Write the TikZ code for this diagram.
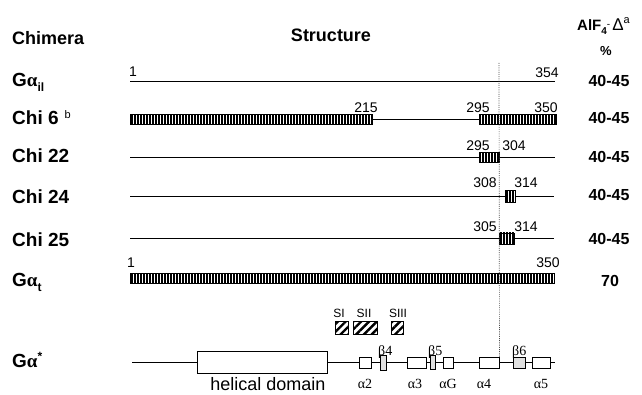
\documentclass[tikz,border=0pt]{standalone}
\usepackage{fontspec}
\setmainfont{Liberation Sans}
\newfontfamily\grk{Liberation Serif}
\usetikzlibrary{patterns.meta}
\newcommand\mysub[1]{\raisebox{-5pt}{\fontsize{12}{12}\selectfont #1}}
\newcommand\mysup[1]{\raisebox{7pt}{\fontsize{12}{12}\selectfont #1}}
\begin{document}
\begin{tikzpicture}[x=1pt,y=-1pt,
  lbl/.style={anchor=base west, inner sep=0pt, font=\fontsize{19}{20}\selectfont\bfseries},
  head/.style={anchor=base, inner sep=0pt, font=\fontsize{18}{20}\selectfont\bfseries},
  val/.style={anchor=base, inner sep=0pt, font=\fontsize{16}{18}\selectfont\bfseries},
  num/.style={anchor=base, inner sep=0pt, font=\fontsize{14}{16}\selectfont},
  slbl/.style={anchor=base, inner sep=0pt, font=\fontsize{12}{14}\selectfont},
  glbl/.style={anchor=base, inner sep=0pt, font=\fontsize{14}{16}\selectfont\grk},
  seg/.style={line width=0.9pt},
  stripebox/.style={draw, line width=0.8pt, inner sep=0pt, pattern={Lines[angle=90,distance=3pt,line width=1.3pt]}},
  hatchbox/.style={draw, line width=0.9pt, inner sep=0pt, minimum height=13pt, pattern={Lines[angle=45,distance=5.5pt,line width=2.4pt]}},
  domainbox/.style={draw, line width=0.9pt, fill=white, inner sep=0pt, minimum height=11pt},
  betabox/.style={draw, line width=0.9pt, fill=black!12, inner sep=0pt, minimum height=14pt},
  dotline/.style={line width=0.7pt, black!70, dash pattern=on 1pt off 1.2pt}]

\useasboundingbox (0,0) rectangle (642,395);

% headers
\node[lbl, font=\fontsize{18}{20}\selectfont\bfseries] (hchim) at (12,45) {Chimera};
\node[head] (hstruct) at (331,42) {Structure};
\node[anchor=base west, inner sep=0pt, font=\fontsize{15}{16}\selectfont\bfseries] (hdelta) at (577,31)
  {AlF\raisebox{-4pt}{\fontsize{10}{10}\selectfont 4}\raisebox{3pt}{\fontsize{10}{10}\selectfont\mdseries -}\hspace{2pt}{\mdseries\fontsize{17}{17}\selectfont Δ}\raisebox{7pt}{\fontsize{11}{11}\selectfont\mdseries a}};
\node[anchor=base, inner sep=0pt, font=\fontsize{13}{14}\selectfont\bfseries] (hpct) at (606,56) {\%};

% row labels
\node[lbl] (lgi) at (12,87) {G{\grk α}\mysub{il}};
\node[lbl] (lc6) at (12,124.5) {Chi 6\hspace{6pt}\raisebox{6pt}{\fontsize{11}{11}\selectfont\mdseries b}};
\node[lbl] (lc22) at (12,163) {Chi 22};
\node[lbl] (lc24) at (12,204) {Chi 24};
\node[lbl] (lc25) at (12,247) {Chi 25};
\node[lbl] (lgt) at (12,287) {G{\grk α}\mysub{t}};
\node[lbl] (lgs) at (12,367) {G{\grk α}\mysup{*}};

% values
\node[val] (v1) at (609,87) {40-45};
\node[val] (v2) at (609,124) {40-45};
\node[val] (v3) at (609,163) {40-45};
\node[val] (v4) at (609,201) {40-45};
\node[val] (v5) at (609,244) {40-45};
\node[val] (v6) at (610,286) {70};

% G alpha il
\coordinate (gis) at (130,81.5);
\coordinate (gie) at (555,81.5);
\draw[seg] (gis) -- (gie);
\node[num] (ngi1) at (133,77) {1};
\node[num] (ngi2) at (547,78) {354};

% Chi 6
\node[stripebox, minimum width=242pt, minimum height=10pt] (c6a) at (251,119.5) {};
\node[stripebox, minimum width=77pt, minimum height=10pt] (c6b) at (517.5,119.5) {};
\draw[seg] (c6a) -- (c6b);
\node[num] (n6a) at (366,113) {215};
\node[num] (n6b) at (478,113) {295};
\node[num] (n6c) at (546,113) {350};

% Chi 22
\coordinate (c22s) at (130,157.5);
\coordinate (c22e) at (555,157.5);
\node[stripebox, minimum width=20pt, minimum height=10pt] (c22b) at (489,157.5) {};
\draw[seg] (c22s) -- (c22b) -- (c22e);
\node[num] (n22a) at (478,151) {295};
\node[num] (n22b) at (514,151) {304};

% Chi 24
\coordinate (c24s) at (130,196.5);
\coordinate (c24e) at (554,196.5);
\node[stripebox, minimum width=10pt, minimum height=12pt] (c24b) at (510,196.5) {};
\draw[seg] (c24s) -- (c24b) -- (c24e);
\node[num] (n24a) at (485,188) {308};
\node[num] (n24b) at (526,188) {314};

% Chi 25
\coordinate (c25s) at (130,238.5);
\coordinate (c25e) at (554,238.5);
\node[stripebox, minimum width=15pt, minimum height=11pt] (c25b) at (506.5,238.5) {};
\draw[seg] (c25s) -- (c25b) -- (c25e);
\node[num] (n25a) at (485,232) {305};
\node[num] (n25b) at (526,232) {314};

% G alpha t
\node[stripebox, minimum width=424pt, minimum height=10pt] (gtb) at (342,278) {};
\node[num] (ngt1) at (131,268) {1};
\node[num] (ngt2) at (548,268) {350};

% switch regions
\node[slbl] (lsi) at (339,317) {SI};
\node[slbl] (lsii) at (364,317) {SII};
\node[slbl] (lsiii) at (398,317) {SIII};
\node[hatchbox, minimum width=13pt] (si) at (341.5,327.5) {};
\node[hatchbox, minimum width=24pt] (sii) at (365,327.5) {};
\node[hatchbox, minimum width=12pt] (siii) at (397,327.5) {};

% G alpha* structure
\coordinate (gss) at (132,362.5);
\coordinate (gse) at (555,362.5);
\node[domainbox, minimum width=130pt, minimum height=22pt] (hd) at (262,362.5) {};
\node[domainbox, minimum width=12pt] (a2) at (365,362.5) {};
\node[betabox, minimum width=6pt, minimum height=15pt] (b4) at (383,362.5) {};
\node[domainbox, minimum width=19pt] (a3) at (416.5,362.5) {};
\node[betabox, minimum width=5pt] (b5) at (432.5,362.5) {};
\node[domainbox, minimum width=10pt] (aG) at (448,362.5) {};
\node[domainbox, minimum width=19.5pt] (a4) at (489.25,362.5) {};
\node[betabox, minimum width=12pt, minimum height=11pt] (b6) at (519,362.5) {};
\node[domainbox, minimum width=18pt] (a5) at (541,362.5) {};
\foreach \p/\q in {gss/hd, hd/a2, a2/b4, b4/a3, a3/b5, b5/aG, aG/a4, a4/b6, b6/a5, a5/gse}
  \draw[seg] (\p) -- (\q);

\node[anchor=base, inner sep=0pt, font=\fontsize{18}{20}\selectfont] (thd) at (268,390) {helical domain};
\node[glbl] (ta2) at (365,388) {α2};
\node[glbl] (ta3) at (415,388) {α3};
\node[glbl] (taG) at (448,388) {αG};
\node[glbl] (ta4) at (484,388) {α4};
\node[glbl] (ta5) at (541,388) {α5};
\node[glbl, anchor=base west] (tb4) at (378,355) {β4};
\node[glbl, anchor=base west] (tb5) at (428,355) {β5};
\node[glbl, anchor=base west] (tb6) at (512,355) {β6};

% dotted reference line
\coordinate (dtop) at (499,63);
\draw[dotline] (dtop) -- (a4.north east);
\end{tikzpicture}
\end{document}
